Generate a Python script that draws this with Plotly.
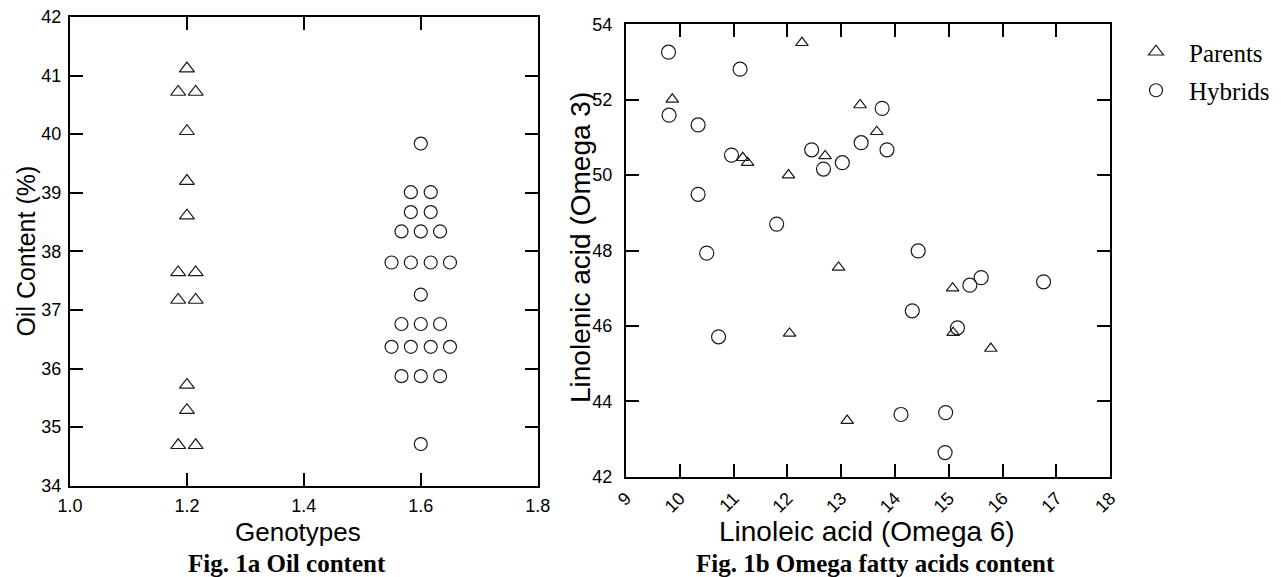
import plotly.graph_objects as go

# ---------------- Fig. 1a  Oil content ----------------
parent_genotype = [1.2, 1.185, 1.215, 1.2, 1.2, 1.2, 1.185, 1.215,
                   1.185, 1.215, 1.2, 1.2, 1.185, 1.215]
parent_oil = [41.12, 40.72, 40.72, 40.05, 39.20, 38.61, 37.64, 37.64,
              37.17, 37.17, 35.72, 35.29, 34.69, 34.69]

hybrid_genotype = [1.6,
                   1.583, 1.617,
                   1.583, 1.617,
                   1.567, 1.6, 1.633,
                   1.55, 1.583, 1.617, 1.65,
                   1.6,
                   1.567, 1.6, 1.633,
                   1.55, 1.583, 1.617, 1.65,
                   1.567, 1.6, 1.633,
                   1.6]
hybrid_oil = [39.84,
              39.01, 39.01,
              38.67, 38.67,
              38.34, 38.34, 38.34,
              37.81, 37.81, 37.81, 37.81,
              37.26,
              36.76, 36.76, 36.76,
              36.37, 36.37, 36.37, 36.37,
              35.87, 35.87, 35.87,
              34.71]

# ---------------- Fig. 1b  Omega fatty acids ----------------
parent_omega6 = [9.86, 12.27, 11.17, 11.26, 12.02, 12.70, 13.35, 13.66,
                 12.95, 12.04, 13.11, 15.07, 15.08, 15.78]
parent_omega3 = [52.01, 53.51, 50.46, 50.33, 50.00, 50.51, 51.86, 51.15,
                 47.55, 45.80, 43.49, 47.00, 45.82, 45.40]

hybrid_omega6 = [9.79, 9.80, 11.12, 10.34, 10.34, 10.50, 10.96, 11.80,
                 12.45, 12.67, 13.02, 13.37, 13.76, 13.85, 14.43, 10.72,
                 14.11, 14.32, 15.39, 15.60, 16.76, 15.16, 14.94, 14.93]
hybrid_omega3 = [53.26, 51.59, 52.81, 51.33, 49.49, 47.93, 50.53, 48.70,
                 50.67, 50.16, 50.33, 50.86, 51.77, 50.67, 47.99, 45.71,
                 43.65, 46.40, 47.08, 47.28, 47.17, 45.95, 43.70, 42.64]

# tick settings
oil_ticks = [34, 35, 36, 37, 38, 39, 40, 41, 42]
genotype_ticks = [1.0, 1.2, 1.4, 1.6, 1.8]
omega6_ticks = [9, 10, 11, 12, 13, 14, 15, 16, 17, 18]
omega3_ticks = [42, 44, 46, 48, 50, 52, 54]

# the page body has an 8px margin; the figure is sized to fill the rest
OFF = 8
W, H = 1281 - OFF, 577 - OFF
SANS = "Arial, Liberation Sans, sans-serif"
SERIF = "Times New Roman, Liberation Serif, serif"
INK = "#1a1a1a"


def px_x(p):
    return (p - OFF) / W


def px_y(p):
    return 1 - (p - OFF) / H


fig = go.Figure()

fig.add_trace(go.Scatter(
    x=parent_genotype, y=parent_oil, mode="markers", name="Parents",
    legendgroup="parents", showlegend=True,
    marker=dict(symbol="triangle-up-open", size=13, color=INK, line=dict(width=1.2, color=INK)),
    xaxis="x", yaxis="y"))
fig.add_trace(go.Scatter(
    x=hybrid_genotype, y=hybrid_oil, mode="markers", name="Hybrids",
    legendgroup="hybrids", showlegend=True,
    marker=dict(symbol="circle-open", size=13, color=INK, line=dict(width=1.2, color=INK)),
    xaxis="x", yaxis="y"))
fig.add_trace(go.Scatter(
    x=parent_omega6, y=parent_omega3, mode="markers", name="Parents",
    legendgroup="parents", showlegend=False,
    marker=dict(symbol="triangle-up-open", size=11, color=INK, line=dict(width=1.2, color=INK)),
    xaxis="x2", yaxis="y2"))
fig.add_trace(go.Scatter(
    x=hybrid_omega6, y=hybrid_omega3, mode="markers", name="Hybrids",
    legendgroup="hybrids", showlegend=False,
    marker=dict(symbol="circle-open", size=14, color=INK, line=dict(width=1.2, color=INK)),
    xaxis="x2", yaxis="y2"))

axis_common = dict(
    showline=True, linecolor="black", linewidth=2, mirror="ticks",
    ticks="inside", ticklen=13, tickwidth=1.6, tickcolor="black",
    showgrid=False, zeroline=False, automargin=False,
    ticklabeloverflow="allow",
    tickfont=dict(family=SANS, size=18, color="black"),
)

fig.update_layout(
    width=W, height=H,
    margin=dict(l=0, r=0, t=0, b=0, autoexpand=False),
    paper_bgcolor="white", plot_bgcolor="white",
    xaxis=dict(axis_common, domain=[px_x(70), px_x(537.7)], range=[1.0, 1.8],
               tickvals=genotype_ticks, tickformat=".1f", anchor="y",
               ticklabelstandoff=3),
    yaxis=dict(axis_common, domain=[px_y(485.7), px_y(17)], range=[34, 42],
               tickvals=oil_ticks, anchor="x", ticklabelstandoff=3),
    xaxis2=dict(axis_common, domain=[px_x(626), px_x(1110.3)], range=[9, 18],
                tickvals=omega6_ticks, tickangle=-45, anchor="y2",
                ticklabelstandoff=2),
    yaxis2=dict(axis_common, domain=[px_y(476.7), px_y(24.3)], range=[42, 54],
                tickvals=omega3_ticks, anchor="x2", ticklabelstandoff=8),
    legend=dict(x=px_x(1123), y=px_y(29), xanchor="left", yanchor="top",
                font=dict(family=SERIF, size=25, color="black"),
                bgcolor="rgba(0,0,0,0)", itemwidth=56, tracegroupgap=3,
                traceorder="grouped"),
    annotations=[
        dict(text="Oil Content (%)", x=px_x(25.8), y=px_y(250.8), xref="paper", yref="paper",
             textangle=-90, showarrow=False, xanchor="center", yanchor="middle",
             font=dict(family=SANS, size=25, color="black")),
        dict(text="Genotypes", x=px_x(298.3), y=px_y(531.5), xref="paper", yref="paper",
             showarrow=False, xanchor="center", yanchor="middle",
             font=dict(family=SANS, size=26, color="black")),
        dict(text="<b>Fig. 1a Oil content</b>", x=px_x(286.5), y=px_y(563.5), xref="paper", yref="paper",
             showarrow=False, xanchor="center", yanchor="middle",
             font=dict(family=SERIF, size=25, color="black")),
        dict(text="Linolenic acid (Omega 3)", x=px_x(580.5), y=px_y(247.5), xref="paper", yref="paper",
             textangle=-90, showarrow=False, xanchor="center", yanchor="middle",
             font=dict(family=SANS, size=28, color="black")),
        dict(text="Linoleic acid (Omega 6)", x=px_x(867.5), y=px_y(531), xref="paper", yref="paper",
             showarrow=False, xanchor="center", yanchor="middle",
             font=dict(family=SANS, size=28, color="black")),
        dict(text="<b>Fig. 1b Omega fatty acids content</b>", x=px_x(875.5), y=px_y(563.5),
             xref="paper", yref="paper", showarrow=False, xanchor="center", yanchor="middle",
             font=dict(family=SERIF, size=25, color="black")),
    ],
)

fig.write_html("out.html")
